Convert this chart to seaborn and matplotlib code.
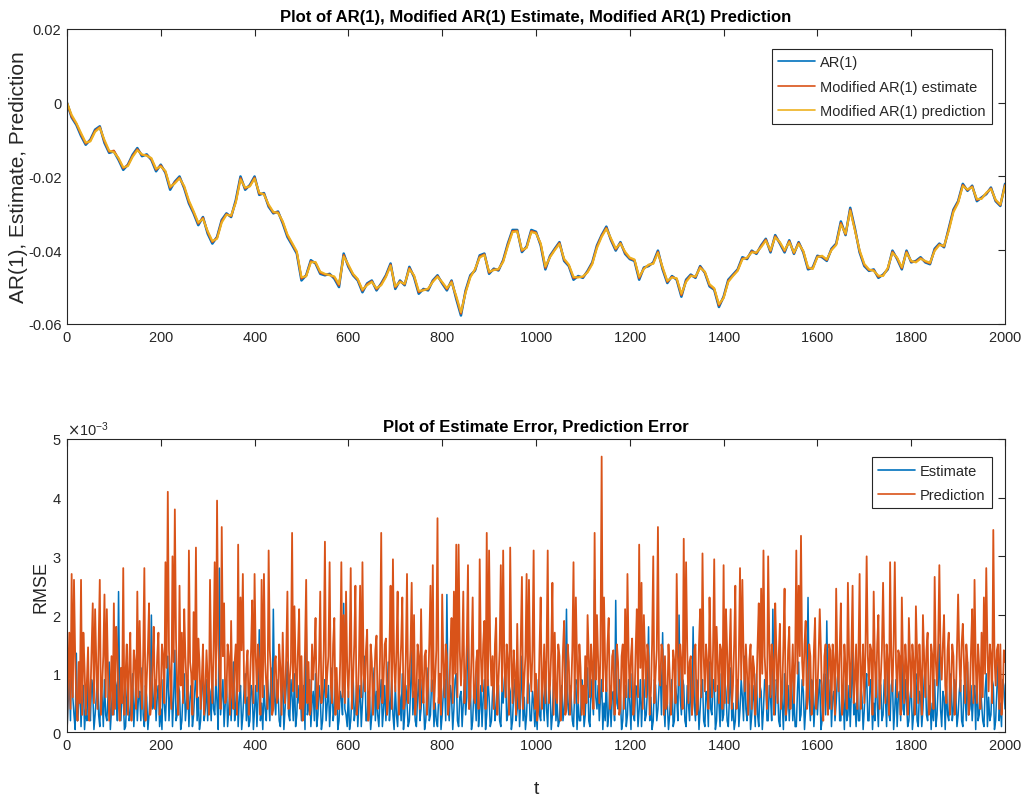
import numpy as np
import pandas as pd
import matplotlib
matplotlib.use("Agg")
import matplotlib.pyplot as plt
import seaborn as sns
from matplotlib.ticker import ScalarFormatter

# ---------------- data (values in units of 1e-3) ----------------
t_top = np.arange(0, 2001, 10)
t_err = np.arange(0, 2001, 5)          # main samples
t_mid = np.arange(2.5, 2000, 5)        # in-between samples

ar1_e3 = [0, -4, -6, -9, -11.4, -10, -7.3, -6.4, -10.9, -13.6,
 -13.2, -15.5, -18.2, -16.8, -14.1, -12.3, -14.5, -14, -15.5, -18.6,
 -16.8, -19, -23.6, -21.4, -20, -23.2, -27.3, -30, -33.2, -31,
 -35.5, -38.2, -36.4, -31.8, -30, -31, -26.4, -20, -23.6, -22.3,
 -20, -25, -24.5, -28.2, -30, -29.5, -32.7, -36.4, -38.6, -40.9,
 -48.2, -46.8, -42.7, -43.6, -46.4, -46.8, -46.4, -47.7, -50, -40.9,
 -44.5, -46.8, -48.2, -51.4, -49, -48.2, -50.9, -49, -46.8, -43.6,
 -50.5, -48.2, -49.5, -44.5, -47.3, -51.8, -50.5, -50.9, -48.2, -46.8,
 -49, -50.9, -48.2, -53.2, -57.7, -50.9, -46.8, -45.5, -41.4, -40.9,
 -46.4, -45, -45.5, -42.7, -38.2, -34.5, -34.5, -40.5, -39, -34.5,
 -35,
 -38.7, -45.2, -41.5, -39.6, -37.8, -42.9, -44.3, -48, -47, -47.5,
 -45.6, -43.3, -38.7, -35.9, -33.6, -37.3, -40.1, -37.8, -41, -42.4,
 -42.9, -48, -44.7, -44.3, -43.3, -40.1, -45.2, -48.9, -47, -48,
 -52.6, -48, -46.6, -47.5, -44.3, -46.1, -49.8, -50.7, -55.4, -52.6,
 -48, -46.6, -45.2, -41.9, -42.4, -40.1, -41, -38.7, -36.9, -40.6,
 -35.9, -38.2, -40.6, -37.3, -41, -37.8, -40.6, -45.2, -44.7, -41.5,
 -41.9, -42.9, -39.6, -38.2, -32.2, -35.9, -28.5, -34.1, -40.6, -44.3,
 -45.6, -45.2, -47.5, -46.6, -45.2, -40.1, -42.4, -45.2, -40.1, -43.3,
 -42.9, -41.9, -43.3, -43.8, -39.6, -38.2, -39.2, -34.1, -29, -26.7,
 -22, -23.9, -22.5, -26.7, -25.7, -24.8, -23, -26.7, -28, -22]

est_e3 = [0, -3.8, -5.7, -8.6, -11.1, -10.2, -7.6, -6.6, -10.5, -13.3,
 -13.0, -15.2, -17.8, -16.9, -14.4, -12.6, -14.2, -14.2, -15.3, -18.2,
 -17.0, -18.8, -23.1, -21.6, -20.3, -22.9, -26.9, -29.7, -32.8, -31.2,
 -35.1, -37.8, -36.6, -32.1, -30.2, -30.8, -26.8, -20.4, -23.3, -22.5,
 -20.3, -24.7, -24.7, -27.9, -29.8, -29.7, -32.4, -36.0, -38.3, -40.6,
 -47.7, -46.9, -43.0, -43.4, -46.1, -46.6, -46.6, -47.4, -49.6, -41.3,
 -44.2, -46.6, -48.0, -51.0, -49.2, -48.4, -50.6, -49.2, -47.0, -43.9,
 -50.1, -48.4, -49.3, -44.8, -47.0, -51.4, -50.7, -50.6, -48.4, -47.0,
 -48.8, -50.6, -48.4, -52.8, -57.2, -51.2, -47.1, -45.3, -41.7, -41.1,
 -46.1, -45.2, -45.3, -42.9, -38.5, -34.8, -34.7, -40.2, -39.2, -34.8,
 -35.2,
 -38.4, -44.8, -41.7, -39.8, -38.0, -42.6, -44.1, -47.6, -47.2, -47.3,
 -45.8, -43.5, -39.0, -36.1, -33.9, -37.1, -39.8, -38.0, -40.7, -42.2,
 -42.7, -47.6, -44.9, -44.1, -43.5, -40.4, -44.9, -48.6, -47.2, -47.8,
 -52.2, -48.3, -46.8, -47.3, -44.5, -46.0, -49.5, -50.5, -55.0, -52.8,
 -48.3, -46.8, -45.4, -42.2, -42.2, -40.3, -40.8, -38.9, -37.1, -40.3,
 -36.2, -38.0, -40.3, -37.5, -40.8, -38.0, -40.4, -44.9, -44.9, -41.7,
 -41.7, -42.7, -39.8, -38.4, -32.6, -35.7, -28.9, -34.4, -40.3, -44.0,
 -45.4, -45.4, -47.2, -46.8, -45.0, -40.4, -42.2, -44.9, -40.4, -43.1,
 -43.1, -42.1, -43.1, -43.6, -39.9, -38.4, -39.0, -34.4, -29.3, -26.9,
 -22.3, -23.7, -22.7, -26.4, -25.9, -24.6, -23.2, -26.5, -27.8, -22.3]

pred_e3 = [0, -3.3, -5.5, -8.2, -10.8, -10.5, -7.9, -6.8, -10.1, -13.0,
 -13.4, -15.0, -17.5, -17.2, -14.7, -12.9, -14.0, -14.4, -15.0, -17.9,
 -17.3, -18.5, -22.8, -21.9, -20.5, -22.6, -26.5, -29.4, -32.5, -31.5,
 -34.8, -37.5, -36.9, -32.5, -30.4, -30.6, -27.1, -20.8, -23.0, -22.7,
 -20.6, -24.4, -24.9, -27.6, -29.6, -29.9, -32.1, -35.7, -38.0, -40.3,
 -47.3, -47.1, -43.3, -43.2, -45.8, -46.4, -46.8, -47.1, -49.2, -41.7,
 -43.9, -46.4, -47.8, -50.7, -49.5, -48.6, -50.3, -49.5, -47.3, -44.2,
 -49.8, -48.6, -49.1, -45.1, -46.8, -51.0, -50.9, -50.4, -48.6, -47.2,
 -48.6, -50.3, -48.7, -52.4, -56.8, -51.5, -47.4, -45.1, -42.0, -41.3,
 -45.8, -45.4, -45.1, -43.2, -38.9, -35.1, -34.9, -39.9, -39.4, -35.1,
 -35.4,
 -38.1, -44.4, -41.9, -40.0, -38.3, -42.3, -43.9, -47.2, -47.4, -47.1,
 -46.0, -43.8, -39.4, -36.4, -34.2, -36.8, -39.5, -38.2, -40.4, -42.0,
 -42.5, -47.2, -45.1, -43.9, -43.7, -40.7, -44.6, -48.3, -47.4, -47.6,
 -51.8, -48.6, -47.0, -47.1, -44.8, -45.8, -49.2, -50.3, -54.6, -53.0,
 -48.6, -47.0, -45.6, -42.5, -42.0, -40.6, -40.6, -39.2, -37.4, -40.0,
 -36.5, -37.8, -40.0, -37.8, -40.6, -38.3, -40.2, -44.6, -45.1, -41.9,
 -41.5, -42.5, -40.0, -38.6, -33.0, -35.5, -29.3, -34.7, -40.0, -43.7,
 -45.2, -45.6, -46.9, -47.0, -44.8, -40.7, -42.0, -44.6, -40.7, -42.9,
 -43.3, -42.3, -42.9, -43.4, -40.2, -38.6, -38.8, -34.8, -29.7, -27.2,
 -22.6, -23.5, -22.9, -26.1, -26.1, -24.4, -23.4, -26.3, -27.6, -22.6]

err_est_e3 = [
 0.0, 0.9, 1.5, 0.3, 1.35, 0.5, 0.1, 0.8, 0.4, 1.0, 0.2, 0.7, 0.3, 1.1, 0.1, 0.6, 0.9, 0.2, 1.2, 0.4,
 0.3, 0.8, 2.4, 0.2, 0.6, 0.1, 0.9, 0.3, 1.0, 0.5, 0.2, 0.7, 1.1, 0.1, 0.6, 0.3, 2.0, 0.5, 0.2, 0.8,
 0.4, 0.9, 0.2, 1.3, 0.6, 0.1, 1.4, 0.3, 0.7, 0.2, 1.0, 0.5, 0.1, 0.8, 0.3, 1.1, 0.6, 0.2, 0.9, 0.4,
 0.2, 0.7, 1.0, 0.3, 0.5, 2.8, 0.6, 0.1, 0.9, 0.4, 0.2, 1.2, 0.5, 0.1, 0.8, 0.3, 1.0, 0.6, 0.2, 0.7,
 0.4, 0.1, 1.75, 0.5, 0.8, 0.2, 0.6, 1.1, 2.1, 0.3, 0.7, 0.1, 0.9, 0.4, 1.2, 0.2, 0.6, 1.0, 0.3, 0.5,
 0.2, 0.8, 1.95, 0.4, 0.1, 0.7, 1.0, 0.3, 0.6, 0.2, 0.9, 0.5, 0.1, 1.1, 0.4, 0.8, 0.2, 0.6, 2.2, 0.3,
 0.7, 0.2, 1.0, 0.4, 0.1, 0.8, 0.5, 1.3, 0.2, 0.6, 0.3, 1.1, 0.7, 0.1, 0.9, 0.4, 0.2, 1.2, 0.5, 0.3,
 0.8, 0.1, 0.6, 1.0, 0.3, 0.5, 0.2, 1.4, 0.7, 0.1, 0.9, 0.4, 0.6, 0.2, 1.1, 0.3, 0.8, 0.5, 0.1, 0.7,
 0.3, 0.9, 2.35, 0.2, 0.6, 0.4, 1.0, 0.1, 0.7, 0.5, 0.3, 2.2, 0.8, 0.2, 0.6, 1.2, 0.4, 0.1, 0.9, 0.3,
 0.6, 0.2, 1.0, 0.4, 0.8, 0.1, 0.5, 1.1, 0.3, 0.7, 0.2, 0.9, 0.4, 0.1, 1.3, 0.6, 0.3, 0.8, 0.2, 0.5,
 0.4, 0.9, 0.2, 0.6, 1.2, 0.1, 0.7, 0.3, 1.0, 0.5, 0.2, 0.8, 0.4, 2.1, 0.3, 0.6, 0.1, 0.9, 0.5, 0.2,
 0.7, 0.3, 1.1, 0.1, 0.6, 2.6, 0.4, 0.2, 0.9, 0.5, 1.0, 0.3, 0.1, 0.7, 2.25, 0.4, 0.6, 0.2, 0.8, 0.3,
 0.5, 1.0, 0.2, 0.7, 0.4, 0.1, 0.9, 0.3, 1.8, 0.6, 0.2, 0.8, 0.4, 1.1, 1.7, 0.1, 0.5, 0.3, 0.9, 0.2,
 0.6, 2.0, 0.3, 0.8, 0.1, 0.5, 1.0, 1.8, 0.2, 0.7, 0.4, 0.9, 0.1, 0.6, 1.2, 0.3, 0.8, 0.2, 0.5, 1.0,
 0.3, 0.7, 0.1, 1.1, 0.5, 0.2, 0.9, 0.4, 0.6, 1.3, 0.2, 0.8, 0.3, 0.5, 1.0, 0.1, 0.7, 0.4, 0.9, 0.2,
 0.6, 2.1, 0.3, 0.8, 0.1, 0.5, 1.0, 0.4, 0.2, 0.9, 0.6, 0.1, 1.2, 0.3, 0.7, 0.4, 2.3, 0.2, 0.8, 0.5,
 0.3, 0.9, 0.2, 1.0, 1.9, 0.4, 0.1, 0.7, 0.5, 1.1, 0.2, 0.6, 0.9, 0.3, 0.1, 1.4, 0.5, 0.8, 0.2, 0.6,
 0.4, 1.0, 0.2, 0.7, 0.5, 1.2, 0.1, 0.8, 0.3, 0.6, 1.1, 0.2, 0.9, 0.4, 0.1, 0.7, 1.3, 0.3, 0.5, 0.2,
 0.8, 0.3, 1.0, 0.1, 0.6, 0.4, 1.1, 0.2, 0.7, 0.5, 0.9, 0.3, 1.5, 0.1, 0.6, 0.8, 0.2, 1.0, 0.4, 0.7,
 0.3, 0.9, 0.1, 0.6, 1.2, 0.4, 0.2, 0.8, 1.1, 0.3, 0.5, 0.1, 1.0, 0.6, 0.3, 0.8, 0.2, 1.2, 0.5, 0.9, 0.4]

err_est_mid_e3 = [
 0.5, 0.2, 0.6, 0.05, 0.2, 0.9, 0.7, 0.05, 0.2, 0.4, 0.9, 0.05, 0.6, 0.3, 0.8, 0.1, 0.3, 0.6, 0.05, 0.8,
 0.9, 0.2, 0.5, 0.8, 0.05, 0.6, 0.2, 0.7, 0.1, 0.9, 0.6, 0.2, 0.3, 0.8, 0.05, 0.7, 0.4, 0.9, 0.6, 0.1,
 0.05, 0.5, 0.7, 0.2, 0.9, 0.6, 0.2, 0.8, 0.05, 0.7, 0.2, 0.9, 0.6, 0.1, 0.7, 0.2, 0.05, 0.8, 0.2, 0.9,
 0.8, 0.2, 0.4, 0.9, 0.05, 0.3, 0.9, 0.5, 0.1, 0.8, 0.7, 0.2, 0.9, 0.6, 0.05, 0.7, 0.2, 0.1, 0.8, 0.05,
 0.8, 0.6, 0.2, 0.05, 0.4, 0.9, 0.2, 0.3, 0.6, 0.9, 0.2, 0.6, 0.05, 0.8, 0.3, 0.9, 0.2, 0.1, 0.8, 0.7,
 0.6, 0.05, 0.3, 0.9, 0.5, 0.2, 0.1, 0.8, 0.05, 0.7, 0.2, 0.8, 0.5, 0.2, 0.9, 0.05, 0.7, 0.3, 0.4, 0.1,
 0.05, 0.6, 0.2, 0.8, 0.5, 0.1, 0.9, 0.2, 0.7, 0.05, 0.8, 0.2, 0.3, 0.6, 0.1, 0.8, 0.7, 0.2, 0.9, 0.05,
 0.3, 0.7, 0.2, 0.05, 0.8, 0.1, 0.7, 0.3, 0.2, 0.6, 0.2, 0.9, 0.05, 0.7, 0.2, 0.9, 0.1, 0.2, 0.6, 0.05,
 0.7, 0.2, 0.5, 0.8, 0.05, 0.9, 0.2, 0.6, 0.1, 0.9, 0.6, 0.4, 0.05, 0.7, 0.2, 0.1, 0.8, 0.6, 0.05, 0.9,
 0.1, 0.7, 0.2, 0.9, 0.2, 0.7, 0.9, 0.2, 0.8, 0.05, 0.7, 0.2, 0.8, 0.6, 0.2, 0.05, 0.9, 0.2, 0.7, 0.1,
 0.05, 0.3, 0.8, 0.2, 0.4, 0.8, 0.05, 0.9, 0.2, 0.1, 0.7, 0.2, 0.9, 0.5, 0.8, 0.2, 0.7, 0.05, 0.2, 0.9,
 0.1, 0.8, 0.2, 0.9, 0.3, 0.6, 0.8, 0.6, 0.05, 0.2, 0.1, 0.8, 0.6, 0.2, 0.5, 0.9, 0.05, 0.7, 0.1, 0.9,
 0.05, 0.3, 0.8, 0.1, 0.9, 0.6, 0.2, 0.7, 0.2, 0.05, 0.9, 0.2, 0.8, 0.3, 0.5, 0.8, 0.05, 0.7, 0.1, 0.8,
 0.2, 0.6, 0.9, 0.2, 0.8, 0.2, 0.3, 0.5, 0.9, 0.05, 0.8, 0.2, 0.7, 0.1, 0.4, 0.9, 0.05, 0.8, 0.1, 0.2,
 0.9, 0.2, 0.6, 0.2, 0.05, 0.8, 0.1, 0.9, 0.2, 0.4, 0.9, 0.05, 0.8, 0.1, 0.3, 0.8, 0.05, 0.9, 0.2, 0.8,
 0.2, 0.7, 0.9, 0.2, 0.8, 0.05, 0.2, 0.8, 0.7, 0.2, 0.1, 0.7, 0.2, 0.9, 0.05, 0.8, 0.6, 0.9, 0.1, 0.9,
 0.7, 0.05, 0.8, 0.3, 0.6, 0.9, 0.6, 0.2, 0.9, 0.2, 0.8, 0.05, 0.2, 0.8, 0.7, 0.3, 0.1, 0.2, 0.8, 0.05,
 0.8, 0.2, 0.9, 0.05, 0.2, 0.5, 0.9, 0.2, 0.9, 0.1, 0.3, 0.8, 0.05, 0.9, 0.6, 0.2, 0.4, 0.9, 0.1, 0.6,
 0.05, 0.8, 0.2, 0.7, 0.1, 0.9, 0.3, 0.8, 0.05, 0.2, 0.1, 0.8, 0.4, 0.7, 0.05, 0.3, 0.8, 0.2, 0.9, 0.1,
 0.7, 0.2, 0.8, 0.2, 0.3, 0.8, 0.6, 0.05, 0.2, 0.8, 0.2, 0.7, 0.1, 0.2, 0.9, 0.05, 0.7, 0.2, 0.1, 0.8]

err_pred_e3 = [
 0.0, 1.7, 2.7, 2.6, 0.5, 1.2, 2.6, 1.7, 0.3, 1.45, 0.6, 2.2, 2.1, 0.4, 2.6, 0.8, 2.35, 2.1, 0.2, 1.3,
 2.2, 1.8, 0.5, 1.1, 2.8, 1.0, 0.3, 1.7, 0.6, 1.2, 2.4, 1.9, 0.4, 2.8, 0.9, 2.2, 0.5, 1.8, 0.7, 1.7,
 0.6, 1.3, 2.9, 4.1, 0.9, 3.0, 3.8, 0.7, 2.5, 1.7, 2.1, 0.8, 3.1, 1.0, 2.05, 3.15, 1.6, 0.4, 1.5, 0.7,
 0.9, 2.6, 0.5, 2.9, 3.95, 1.0, 3.5, 2.2, 0.6, 1.3, 1.9, 0.4, 1.5, 3.2, 2.3, 2.7, 0.5, 1.4, 0.8, 2.25,
 2.7, 0.7, 1.2, 2.6, 2.7, 0.8, 3.1, 1.0, 0.4, 1.3, 0.6, 1.1, 1.7, 0.5, 2.4, 0.9, 3.4, 2.15, 0.6, 2.1,
 1.3, 0.5, 2.6, 1.2, 0.4, 0.9, 1.95, 0.6, 2.4, 0.7, 3.25, 1.0, 2.9, 0.5, 1.95, 1.1, 0.4, 2.9, 2.0, 2.4,
 0.6, 2.8, 0.9, 2.5, 0.5, 2.5, 2.9, 0.7, 1.75, 0.4, 1.2, 0.8, 1.65, 0.5, 3.4, 0.9, 1.6, 0.6, 2.5, 2.95,
 0.7, 2.4, 1.0, 2.3, 0.5, 2.7, 0.9, 2.55, 2.0, 0.6, 1.3, 2.1, 0.5, 1.4, 0.8, 2.5, 2.85, 0.9, 3.65, 1.0,
 2.35, 0.6, 1.3, 0.5, 1.95, 2.4, 3.2, 3.2, 0.8, 2.4, 0.9, 2.85, 0.6, 2.3, 0.5, 1.4, 2.95, 0.7, 1.9, 3.4,
 3.1, 0.8, 0.4, 1.95, 0.9, 2.85, 3.1, 0.6, 1.2, 3.15, 0.5, 1.0, 1.85, 0.4, 2.65, 0.9, 2.7, 2.6, 0.7, 3.1,
 1.0, 0.4, 2.3, 0.9, 0.5, 3.1, 0.8, 2.55, 1.7, 0.5, 1.3, 0.6, 1.9, 0.4, 1.2, 0.7, 2.9, 2.3, 0.5, 1.1,
 0.8, 1.3, 2.0, 0.6, 1.1, 3.4, 2.0, 0.5, 4.7, 2.3, 0.7, 1.95, 0.5, 1.4, 0.8, 1.2, 0.4, 1.5, 2.1, 2.7,
 0.6, 1.6, 0.5, 2.1, 3.2, 2.55, 2.0, 0.6, 1.3, 0.7, 3.0, 1.0, 3.5, 0.8, 1.4, 1.3, 0.5, 1.0, 0.6, 1.2,
 2.7, 0.8, 1.2, 3.3, 2.9, 0.5, 1.3, 0.6, 1.5, 0.4, 2.1, 3.05, 0.7, 1.2, 2.3, 0.6, 2.95, 1.8, 0.5, 1.4,
 2.85, 2.1, 0.5, 2.1, 0.8, 2.5, 0.6, 2.8, 2.6, 0.7, 1.0, 1.25, 0.4, 1.1, 0.7, 2.2, 2.45, 3.1, 0.9, 3.0,
 0.6, 1.2, 2.2, 0.5, 1.85, 0.7, 2.45, 0.5, 1.8, 0.9, 0.5, 3.1, 2.5, 3.35, 0.8, 1.9, 0.6, 1.3, 0.5, 1.95,
 0.7, 2.1, 0.5, 1.3, 0.6, 1.5, 0.4, 1.2, 2.45, 0.7, 2.2, 0.5, 1.1, 2.55, 0.6, 2.5, 0.9, 0.4, 2.7, 1.0,
 0.5, 3.0, 0.8, 1.4, 2.4, 0.6, 2.0, 0.9, 2.55, 0.5, 1.2, 2.9, 0.7, 2.9, 0.6, 1.3, 2.3, 0.5, 1.1, 1.95,
 0.6, 1.2, 2.15, 0.5, 1.0, 2.0, 0.6, 1.7, 0.4, 1.3, 2.65, 0.8, 2.85, 0.9, 2.0, 0.5, 1.7, 0.8, 1.3, 0.6,
 2.35, 0.7, 1.85, 0.5, 1.2, 0.6, 2.1, 2.6, 0.5, 1.1, 1.7, 2.3, 2.8, 0.7, 1.3, 3.45, 0.8, 1.5, 1.5, 0.6, 1.2]

err_pred_mid_e3 = [
 0.9, 0.4, 0.6, 1.3, 0.2, 0.5, 0.3, 1.1, 0.9, 0.2, 1.4, 0.5, 1.2, 1.5, 0.3, 1.3, 0.6, 1.0, 0.7, 0.3,
 0.4, 1.4, 0.2, 0.5, 0.3, 1.5, 1.1, 0.2, 1.4, 0.4, 0.6, 0.9, 1.3, 0.2, 1.4, 0.3, 1.2, 0.4, 1.3, 0.3,
 1.5, 0.5, 1.1, 1.4, 0.4, 1.2, 1.6, 0.3, 0.8, 0.5, 1.3, 0.4, 1.2, 0.3, 0.9, 0.6, 1.2, 0.9, 0.3, 1.4,
 0.3, 1.2, 1.4, 0.8, 1.5, 0.4, 1.3, 0.5, 1.5, 0.3, 0.6, 1.2, 0.3, 0.7, 1.4, 0.9, 1.1, 0.3, 1.4, 0.5,
 1.3, 1.5, 0.3, 0.6, 1.2, 0.4, 1.4, 0.3, 1.2, 0.5, 1.5, 0.3, 0.8, 1.3, 0.4, 1.2, 0.7, 1.1, 1.4, 0.4,
 0.2, 1.4, 0.5, 0.3, 1.5, 1.3, 0.4, 1.2, 0.5, 1.4, 0.6, 1.3, 0.8, 1.5, 0.3, 0.4, 1.2, 0.6, 0.5, 1.1,
 1.3, 0.4, 1.5, 0.3, 1.2, 0.6, 1.0, 1.4, 0.2, 1.5, 0.3, 1.4, 0.4, 1.3, 0.5, 1.5, 0.3, 1.4, 0.4, 1.2,
 1.4, 0.3, 1.5, 0.4, 1.3, 0.5, 1.4, 0.6, 0.3, 1.5, 0.4, 0.9, 1.3, 0.3, 1.5, 0.7, 0.4, 1.4, 0.5, 0.3,
 1.2, 1.5, 0.3, 1.4, 0.5, 1.0, 0.6, 1.4, 1.3, 0.5, 1.5, 0.4, 1.3, 0.6, 1.2, 0.4, 1.3, 1.5, 0.4, 0.8,
 1.4, 1.3, 1.5, 0.3, 1.4, 0.7, 1.2, 1.5, 0.3, 1.3, 1.4, 0.3, 0.6, 1.5, 0.4, 1.3, 0.5, 1.2, 1.4, 0.4,
 0.2, 1.4, 0.4, 1.5, 1.3, 0.5, 1.4, 0.3, 0.6, 1.5, 0.2, 1.4, 0.3, 1.5, 0.3, 1.4, 0.5, 1.2, 1.5, 0.3,
 0.3, 0.5, 1.3, 1.5, 0.4, 0.9, 1.2, 1.4, 0.7, 1.1, 1.5, 0.4, 1.3, 0.3, 1.5, 0.3, 1.3, 0.4, 0.6, 1.3,
 1.3, 0.3, 1.4, 0.6, 1.1, 0.4, 1.3, 1.5, 0.3, 1.5, 0.5, 1.4, 0.9, 1.5, 0.3, 0.4, 1.5, 0.3, 1.4, 0.5,
 1.3, 1.5, 0.4, 1.0, 1.4, 1.2, 0.3, 1.4, 0.3, 1.5, 0.6, 1.3, 1.5, 0.4, 1.3, 1.4, 0.7, 1.2, 1.5, 0.4,
 0.5, 1.4, 1.3, 0.4, 1.5, 0.4, 1.3, 0.9, 1.3, 1.5, 0.3, 1.5, 1.3, 0.3, 1.5, 0.6, 1.0, 1.3, 0.4, 1.5,
 1.5, 0.3, 1.4, 1.3, 0.4, 1.5, 0.3, 1.4, 0.4, 1.5, 1.2, 1.0, 1.3, 1.2, 1.5, 0.4, 1.5, 0.3, 1.4, 0.4,
 1.3, 1.4, 0.2, 1.5, 0.3, 1.4, 1.5, 0.3, 1.2, 1.4, 0.3, 1.5, 0.4, 1.3, 1.4, 0.5, 1.5, 1.3, 0.4, 1.5,
 1.4, 1.3, 1.5, 0.3, 1.2, 1.5, 0.4, 1.4, 1.3, 1.5, 0.3, 1.3, 1.5, 1.2, 1.4, 0.3, 1.2, 1.5, 0.3, 1.3,
 1.5, 0.3, 1.3, 1.5, 0.3, 1.3, 1.4, 0.3, 1.5, 0.4, 1.2, 1.5, 1.3, 1.5, 0.8, 1.4, 0.3, 1.5, 0.3, 1.4,
 1.3, 1.5, 1.2, 1.5, 0.3, 1.4, 0.5, 1.2, 1.5, 0.4, 0.6, 1.0, 1.4, 1.5, 0.5, 1.3, 1.4, 0.4, 0.3, 1.4]

top_yticks = [-0.06, -0.04, -0.02, 0, 0.02]
top_yticklabels = ["-0.06", "-0.04", "-0.02", "0", "0.02"]
xticks = list(range(0, 2001, 200))

BLUE, ORANGE, YELLOW = "#0072BD", "#D95319", "#EDB120"
AXC = "#262626"

ar1 = np.array(ar1_e3) * 1e-3
est = np.array(est_e3) * 1e-3
pred = np.array(pred_e3) * 1e-3

err_df = pd.DataFrame({
    "t": np.concatenate([t_err, t_mid]),
    "est": np.concatenate([err_est_e3, err_est_mid_e3]) * 1e-3,
    "pred": np.concatenate([err_pred_e3, err_pred_mid_e3]) * 1e-3,
}).sort_values("t")

# ---------------- style ----------------
sns.set_style("white")
FONT = ["Liberation Sans", "DejaVu Sans"]
plt.rcParams["font.family"] = FONT
plt.rcParams["axes.unicode_minus"] = False
plt.rcParams["axes.formatter.use_mathtext"] = True

fig = plt.figure(figsize=(10.27, 8.03), dpi=100)
ax1 = fig.add_axes([0.0652, 0.5953, 0.9134, 0.3674])
ax2 = fig.add_axes([0.0652, 0.0866, 0.9134, 0.3655])

def style(ax):
    for s in ax.spines.values():
        s.set_color(AXC)
        s.set_linewidth(0.8)
    ax.tick_params(direction="in", length=5, width=0.8, colors=AXC,
                   top=True, right=True, labelsize=10.5, pad=4)
    ax.set_xlim(0, 2000)
    ax.set_xticks(xticks)

# ---------------- top ----------------
sns.lineplot(x=t_top, y=ar1, ax=ax1, color=BLUE, lw=1.8, label="AR(1)")
sns.lineplot(x=t_top, y=est, ax=ax1, color=ORANGE, lw=1.5, label="Modified AR(1) estimate")
sns.lineplot(x=t_top, y=pred, ax=ax1, color=YELLOW, lw=1.5, label="Modified AR(1) prediction")
style(ax1)
ax1.set_ylim(-0.06, 0.02)
ax1.set_yticks(top_yticks)
ax1.set_yticklabels(top_yticklabels)
ax1.set_xlabel("")
ax1.set_ylabel("AR(1), Estimate, Prediction", fontsize=15, color=AXC)
ax1.yaxis.set_label_coords(-0.042, 0.5)
ax1.set_title("Plot of AR(1), Modified AR(1) Estimate, Modified AR(1) Prediction",
              fontsize=12, fontweight="bold", color="black", pad=6)
leg1 = ax1.legend(loc="upper right", bbox_to_anchor=(0.994, 0.957), fontsize=10.5,
                  frameon=True, fancybox=False, edgecolor=AXC, framealpha=1,
                  handlelength=2.5, borderpad=0.45, labelspacing=0.7, handletextpad=0.35)
leg1.get_frame().set_linewidth(0.8)

# ---------------- bottom ----------------
sns.lineplot(data=err_df, x="t", y="est", ax=ax2, color=BLUE, lw=1.1, label="Estimate")
sns.lineplot(data=err_df, x="t", y="pred", ax=ax2, color=ORANGE, lw=1.3, label="Prediction")
style(ax2)
ax2.set_ylim(0, 0.005)
fmt = ScalarFormatter(useMathText=True)
fmt.set_powerlimits((-3, -3))
ax2.yaxis.set_major_formatter(fmt)
ax2.yaxis.get_offset_text().set_fontsize(10.5)
ax2.yaxis.get_offset_text().set_color(AXC)
ax2.set_xlabel("t", fontsize=14, color=AXC, labelpad=20)
ax2.set_ylabel("RMSE", fontsize=13, color=AXC)
ax2.yaxis.set_label_coords(-0.019, 0.5)
ax2.set_title("Plot of Estimate Error, Prediction Error",
              fontsize=12, fontweight="bold", color="black", pad=6)
leg2 = ax2.legend(loc="upper right", bbox_to_anchor=(0.994, 0.963), fontsize=10.5,
                  frameon=True, fancybox=False, edgecolor=AXC, framealpha=1,
                  handlelength=2.5, borderpad=0.45, labelspacing=0.7, handletextpad=0.35)
leg2.get_frame().set_linewidth(0.8)
for line in leg1.get_lines() + leg2.get_lines():
    line.set_linewidth(1.2)

fig.savefig("out.png", dpi=100)
